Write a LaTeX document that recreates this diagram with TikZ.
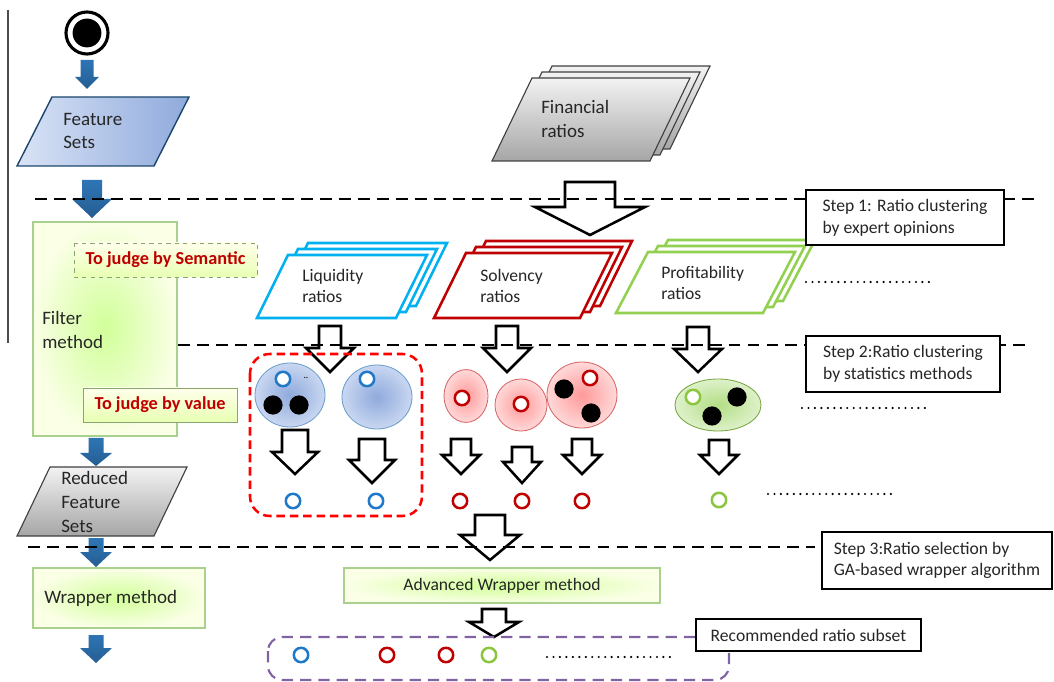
\documentclass[tikz,border=0pt]{standalone}
\usepackage{fontspec}
\setmainfont{Carlito}
\usepackage{xcolor}
\usetikzlibrary{shapes.geometric}

\definecolor{flowblue}{HTML}{2E75B6}
\definecolor{liqcol}{HTML}{00B0F0}
\definecolor{solcol}{HTML}{C00000}
\definecolor{procol}{HTML}{92D050}
\definecolor{ringblue}{HTML}{1F78C8}
\definecolor{ringgreen}{HTML}{8CC63F}
\definecolor{judgered}{HTML}{C00000}
\definecolor{subsetcol}{HTML}{8064A2}
\definecolor{boxgreen}{HTML}{A9D08E}
\definecolor{blobin}{HTML}{8FAADC}
\definecolor{blobout}{HTML}{C9D7F1}

\newcommand{\blockarrow}[7][fatarrow]{%
  \path[#1] ({#2-#6},#3) -- ({#2+#6},#3) -- ({#2+#6},#4) -- ({#2+#7},#4)
    -- (#2,#5) -- ({#2-#7},#4) -- ({#2-#6},#4) -- cycle;}
\newcommand{\para}[6][]{%
  \path[#1] ({#2},{#3}) -- ({#2+#6},{#3-#5}) -- ({#2+#6+#4},{#3-#5})
    -- ({#2+#4},{#3}) -- cycle;}
\newcommand{\parastack}[6][]{%
  \para[#1]{#2+20}{#3-12}{#4}{#5}{#6}
  \para[#1]{#2+10}{#3-6}{#4}{#5}{#6}
  \para[#1]{#2}{#3}{#4}{#5}{#6}}

\tikzset{
  txt/.style={align=left, inner sep=0pt, text=black!85, font=\fontsize{12.5}{15.5}\selectfont},
  txtbig/.style={txt, font=\fontsize{13.5}{17}\selectfont},
  rule/.style={line width=1.8pt, dash pattern=on 8.5pt off 5pt},
  dotrow/.style={line width=1.7pt, line cap=round, dash pattern=on 0pt off 4.6pt},
  stepbox/.style={draw, line width=1.6pt, fill=white},
  fatarrow/.style={draw=black, line width=1.8pt, fill=white},
  bluearrow/.style={top color=flowblue, bottom color=flowblue!80!black},
  featblue/.style={draw=flowblue!60!black, line width=1pt, left color=blobout!70, right color=blobin},
  graysheet/.style={draw=black!75, line width=0.8pt, top color=black!5, bottom color=black!35},
  liqsheet/.style={draw=liqcol, line width=1.8pt, fill=white},
  solsheet/.style={draw=solcol, line width=1.8pt, fill=white},
  prosheet/.style={draw=procol, line width=1.8pt, fill=white},
  methodbox/.style={draw=boxgreen, line width=0.8pt, inner color=green!45!yellow!40, outer color=green!20!yellow!10},
  judgebox/.style={draw=boxgreen!80!black, line width=0.6pt, top color=yellow!8, bottom color=green!30!yellow!30},
  judgetxt/.style={text=judgered, font=\fontsize{13}{15}\selectfont\bfseries},
  ring/.style={circle, draw=#1, line width=1.8pt, fill=white, minimum size=0.36cm, inner sep=0pt},
  blackdot/.style={circle, fill=black, minimum size=0.48cm, inner sep=0pt},
  blueblob/.style={ellipse, draw=flowblue!70, line width=0.6pt, inner color=blobin, outer color=blobout, inner sep=0pt},
  redblob/.style={ellipse, draw=solcol!60, line width=0.6pt, inner color=red!40, outer color=red!15, inner sep=0pt},
  greenblob/.style={ellipse, draw=procol!80!black, line width=0.6pt, inner color=procol!70, outer color=procol!30, inner sep=0pt}
}

\begin{document}
\begin{tikzpicture}[x=0.025cm, y=-0.025cm]
        \useasboundingbox (0,0) rectangle (1054,682);

        % left flow
        \draw[black!70, line width=0.8pt] (8,10) -- (8,343);
        \node[circle, draw, line width=2.2pt, minimum size=1.05cm] (start) at (87,33) {};
        \node[circle, fill=black, minimum size=0.72cm] (startdot) at (start) {};
        \blockarrow[bluearrow]{87}{60}{77}{89}{6.5}{12}
        \para[featblue]{17}{166}{137}{69}{35}
        \node[txtbig, anchor=west] (feat) at (63,131) {Feature\\Sets};
        \blockarrow[bluearrow]{92}{180}{199}{218}{10}{20}

        \draw[methodbox] (33,222) rectangle (177,436);
        \node[txtbig, anchor=west] (filter) at (42,330) {Filter\\method};
        \draw[judgebox, dashed] (74,243) rectangle (257,277) node[midway, judgetxt] (semantic) {To judge by Semantic};
        \draw[judgebox] (83,388) rectangle (237,422) node[midway, judgetxt] (byvalue) {To judge by value};

        \blockarrow[bluearrow]{96}{438}{453}{466}{7.5}{16}
        \para[graysheet]{17}{536}{137}{69}{33}
        \node[txtbig, anchor=west] (reduced) at (61,502) {Reduced\\Feature\\Sets};
        \blockarrow[bluearrow]{96}{538}{552}{567}{7.5}{16}
        \draw[methodbox] (33,568) rectangle (205,628) node[midway] (wrap) {};
        \node[txtbig, anchor=west] (wraptxt) at (44,598) {Wrapper method};
        \blockarrow[bluearrow]{96}{635}{648}{663}{7.5}{16}

        % ratio groups
        \parastack[graysheet]{492}{161}{158}{83}{40}
        \node[txtbig, anchor=west] (fin) at (541,119) {Financial\\ratios};
        \blockarrow{590}{182}{207}{235}{25}{55}

        \parastack[liqsheet]{257}{318}{139}{63}{31}
        \node[txt, anchor=west] (liq) at (302,286) {Liquidity\\ratios};
        \parastack[solsheet]{434}{318}{146}{65}{32}
        \node[txt, anchor=west] (sol) at (480,286) {Solvency\\ratios};
        \parastack[prosheet]{616}{313}{147}{61}{32}
        \node[txt, anchor=west] (pro) at (661,283) {Profitability\\ratios};
        \draw[dotrow] (806,282) -- (930,282);

        \blockarrow{330}{326}{348}{372}{11}{24}
        \blockarrow{507}{326}{348}{372}{11}{24}
        \blockarrow{698}{327}{349}{372}{11}{24}

        % clusters
        \draw[red, line width=1.8pt, dash pattern=on 6pt off 3.5pt, rounded corners=14pt] (250,354) rectangle (422,516);
        \node[blueblob, minimum width=1.75cm, minimum height=1.6cm] (liqa) at (290,395) {};
        \node[ring=ringblue] (liqa1) at (283,379) {};
        \node[blackdot] (liqa2) at (273,405) {};
        \node[blackdot] (liqa3) at (299,405) {};
        \node[font=\fontsize{7}{7}\selectfont] (liqa4) at (306,378) {..};
        \node[blueblob, minimum width=1.75cm, minimum height=1.6cm] (liqb) at (377,397) {};
        \node[ring=ringblue] (liqb1) at (367,379) {};

        \node[redblob, minimum width=1.1cm, minimum height=1.32cm] (sola) at (466,396) {};
        \node[ring=solcol] (sola1) at (462,398) {};
        \node[redblob, minimum width=1.3cm, minimum height=1.3cm] (solb) at (521,405) {};
        \node[ring=solcol] (solb1) at (521,404) {};
        \node[redblob, minimum width=1.75cm, minimum height=1.65cm] (solc) at (582,395) {};
        \node[ring=solcol] (solc1) at (590,378) {};
        \node[blackdot] (solc2) at (564,389) {};
        \node[blackdot] (solc3) at (591,413) {};

        \node[greenblob, minimum width=2.15cm, minimum height=1.3cm] (proa) at (718,405) {};
        \node[ring=ringgreen] (proa1) at (693,397) {};
        \node[blackdot] (proa2) at (737,397) {};
        \node[blackdot] (proa3) at (712,416) {};
        \draw[dotrow] (802,408) -- (925,408);

        \blockarrow{295}{430}{452}{474}{13}{23}
        \blockarrow{372}{439}{460}{483}{13}{23}
        \blockarrow{461}{439}{455}{474}{10}{19}
        \blockarrow{522}{447}{462}{483}{10}{19}
        \blockarrow{582}{439}{455}{474}{10}{19}
        \blockarrow{719}{440}{455}{474}{10}{19}

        \node[ring=ringblue] (liqr1) at (293,501) {};
        \node[ring=ringblue] (liqr2) at (376,501) {};
        \node[ring=solcol] (solr1) at (460,501) {};
        \node[ring=solcol] (solr2) at (522,501) {};
        \node[ring=solcol] (solr3) at (582,501) {};
        \node[ring=ringgreen] (pror1) at (719,500) {};
        \draw[dotrow] (768,494) -- (892,494);

        % wrapper step
        \blockarrow{490}{515}{535}{560}{15}{30}
        \draw[methodbox] (344,568) rectangle (660,603) node[midway, txt] (adv) {Advanced Wrapper method};
        \blockarrow{494}{609}{622}{637}{12}{25}
        \draw[subsetcol, line width=1.5pt, dash pattern=on 8pt off 5pt, rounded corners=10pt] (268,637) rectangle (729,680);
        \node[ring=ringblue] (sub1) at (301,655) {};
        \node[ring=solcol] (sub2) at (387,655) {};
        \node[ring=solcol] (sub3) at (446,655) {};
        \node[ring=ringgreen] (sub4) at (489,655) {};
        \draw[dotrow] (547,657) -- (670,657);

        % step rules
        \draw[rule] (35,199) -- (1035,199);
        \draw[rule] (178,345) -- (1028,345);
        \draw[rule] (28,547) -- (815,547);
        \draw[stepbox] (806,190) rectangle (1004,245) node[midway, txt] (step1) {Step 1: Ratio clustering\\by expert opinions};
        \draw[stepbox] (806,336) rectangle (1000,392) node[midway, txt] (step2) {Step 2:Ratio clustering\\by statistics methods};
        \draw[stepbox] (822,532) rectangle (1052,589) node[midway, txt] (step3) {Step 3:Ratio selection by\\GA-based wrapper algorithm};
        \draw[stepbox] (696,619) rectangle (921,651) node[midway, txt] (recom) {Recommended ratio subset};
\end{tikzpicture}
\end{document}
